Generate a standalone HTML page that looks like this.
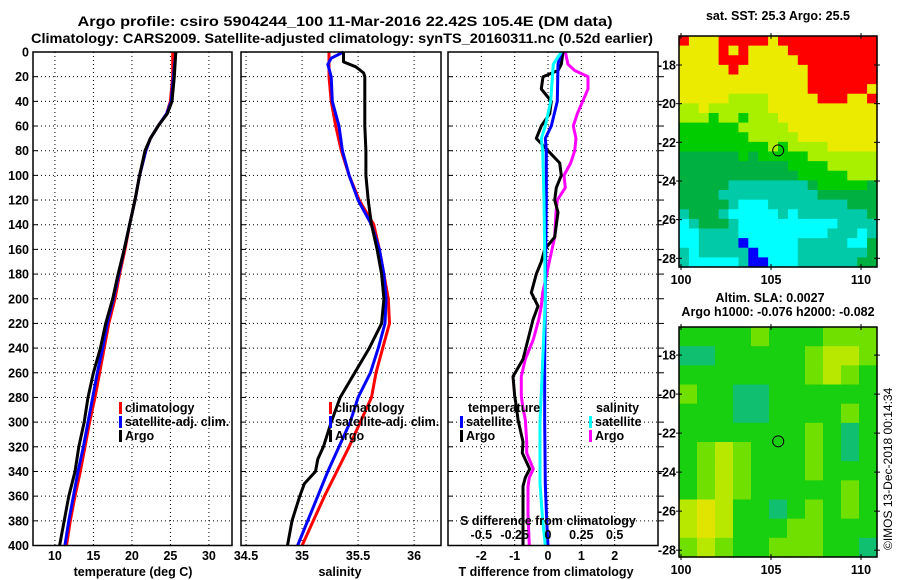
<!DOCTYPE html>
<html><head><meta charset="utf-8">
<style>
html,body{margin:0;padding:0;background:#fff;}
svg{display:block;font-family:"Liberation Sans",sans-serif;font-weight:bold;}
</style></head>
<body>
<svg id="chart" width="900" height="580" viewBox="0 0 900 580" xmlns="http://www.w3.org/2000/svg">
<rect x="0" y="0" width="900" height="580" fill="#fff"/>
<text x="345" y="26" font-size="14" text-anchor="middle" textLength="535" lengthAdjust="spacingAndGlyphs">Argo profile: csiro 5904244_100 11-Mar-2016 22.42S 105.4E (DM data)</text>
<text x="342" y="43" font-size="14" text-anchor="middle" textLength="622" lengthAdjust="spacingAndGlyphs">Climatology: CARS2009. Satellite-adjusted climatology: synTS_20160311.nc (0.52d earlier)</text>
<g id="grids"></g>
<g id="series"></g>
<g id="frames"></g>
<g id="maps"></g>
<g id="labels"></g>
<text x="778" y="20" font-size="12.5" text-anchor="middle">sat. SST: 25.3 Argo: 25.5</text>
<text x="770" y="302" font-size="12.5" text-anchor="middle">Altim. SLA: 0.0027</text>
<text x="778" y="316" font-size="12.5" text-anchor="middle">Argo h1000: -0.076 h2000: -0.082</text>
<text transform="translate(892,550) rotate(-90)" font-size="12" font-weight="normal">©IMOS 13-Dec-2018 00:14:34</text>
</svg>
<script>
// ---------- data ----------
const depthTicks = [0,20,40,60,80,100,120,140,160,180,200,220,240,260,280,300,320,340,360,380,400];
const tTicks = [10,15,20,25,30];
const sTicks = ["34.5","35","35.5","36"];
const dTicks = ["-2","-1","0","1","2"];
const sdTicks = ["-0.5","-0.25","0","0.25","0.5"];

const climDepth = [0,20,40,50,60,70,80,100,120,140,160,180,200,220,240,260,280,300,320,340,360,380,400];
const climTemp  = [25.3,25.3,25.0,24.5,23.4,22.4,21.8,21.0,20.4,19.7,19.1,18.4,17.8,17.0,16.4,15.8,15.2,14.5,13.9,13.3,12.6,12.0,11.5];
const satTemp   = [25.7,25.4,25.1,24.5,23.4,22.4,21.8,21.0,20.4,19.7,19.0,18.3,17.6,16.8,16.2,15.5,14.9,14.3,13.7,13.0,12.4,11.8,11.3];
const argoTemp  = [25.7,25.5,25.2,24.6,23.4,22.4,21.7,21.0,20.4,19.7,19.0,18.2,17.5,16.6,15.9,15.0,14.3,13.8,13.1,12.6,11.8,11.2,10.6];

const salDepth  = [0,5,10,20,40,60,80,100,120,140,160,180,200,220,240,260,280,300,320,340,360,380,400];
const climSal   = [35.24,35.24,35.24,35.24,35.26,35.30,35.35,35.42,35.51,35.64,35.69,35.73,35.77,35.78,35.72,35.66,35.62,35.52,35.42,35.31,35.20,35.10,35.00];
const satSal    = [35.37,35.26,35.23,35.26,35.27,35.33,35.36,35.42,35.50,35.62,35.69,35.73,35.75,35.74,35.68,35.61,35.50,35.43,35.33,35.23,35.14,35.05,34.96];
const argoDepth = [0,8,12,17,20,40,60,80,100,120,140,160,180,200,220,240,260,280,300,320,330,340,350,360,380,400];
const argoSal   = [35.37,35.37,35.48,35.55,35.56,35.56,35.56,35.57,35.57,35.59,35.62,35.67,35.71,35.73,35.71,35.60,35.47,35.34,35.26,35.19,35.14,35.12,35.02,34.98,34.91,34.87];

const dDepth    = [0,10,15,20,30,40,50,60,70,80,90,100,110,120,130,150,160,170,180,195,206,217,233,249,263,279,287,298,316,325,338,345,352,375,400];
const argoTdiff = [0.45,0.4,0.3,-0.15,-0.2,0.1,0.05,-0.2,-0.35,0.0,0.35,0.4,0.25,0.2,0.3,0.2,-0.1,-0.2,-0.35,-0.5,-0.3,-0.45,-0.6,-0.75,-1.05,-1.0,-0.95,-0.9,-0.75,-0.77,-0.55,-0.68,-0.75,-0.75,-0.75];
const argoSdiff = [0.13,0.15,0.2,0.3,0.3,0.26,0.22,0.19,0.21,0.2,0.17,0.12,0.13,0.07,0.06,0.05,0.03,0.01,-0.01,-0.04,-0.05,-0.07,-0.11,-0.17,-0.2,-0.2,-0.19,-0.17,-0.16,-0.16,-0.11,-0.14,-0.15,-0.15,-0.14];
const satDepth  = [0,10,40,60,70,80,120,200,250,300,350,380,400];
const satTdiff  = [0.4,0.3,0.28,0.1,-0.08,-0.05,-0.05,-0.08,-0.1,-0.1,-0.08,-0.04,0.0];
const satSdiff  = [0.1,0.04,0.02,-0.02,-0.05,-0.04,-0.03,-0.02,-0.04,-0.06,-0.06,-0.04,-0.02];

const sstRows = [
"RYYYRRRRRYRRRRRRRRRR","YYYYRYRYYYYRRRRRRRRR","YYYYRRRYYYYYRRRRRRRR","YYYYYRYYYYYYYRRRRRRR",
"YYYYYYYYYYYYYRRRRRRR","YYYYYYYYYYYYYRRRRRRY","YYYYYLLLLYYYYYRRRYYR","LLYLLLLLLYYYYYYYYYYY",
"LLLGLLGLLLYYYYYYYYYY","GGGGGGLLLLLYYYYYYYYY","GGGGGGGLLLLLYYYYYYYY","GGGGGGGGGLGLLLLYYYYY",
"DDDDDDGDGGGGGLLLLLLL","DDDDDDDDDDDGGGGLLLLL","DDDDDDDDDDDDGGGGGLLL","DDDDDTTTTTTTTDGGGGGD",
"DDDDTTTTTTTTTTDDDDDD","DDDDDTCCCTTTTTTTTDDD","TDDDTCCCCCTCTTTTTTTD","CTDDDTCCCCCCCCCCTTTT",
"CCTTTTCCCCCCCCCTTTCT","CCTTTTBCCCCCTTTTTCCD","TCTTTTTBCCCCTTTTTTTD","TCCCCCTBBCCCTTTTTTDD"];
const slaRows = [
"11112111222","00111112332","11111112321","21100111111","11100111121","11111112101",
"12321112101","12321112111","12321111121","34311012121","34311122111","23211222110"];
const mapLonTicks = [100,105,110];
const mapLatTicks = [-18,-20,-22,-24,-26,-28];
const argoLon = 105.4, argoLat = -22.42;

// ---------- helpers ----------
const NS="http://www.w3.org/2000/svg";
function mk(tag,attrs,parent){const e=document.createElementNS(NS,tag);for(const k in attrs)e.setAttribute(k,attrs[k]);parent.appendChild(e);return e;}
const G=document.getElementById('grids'),S=document.getElementById('series'),F=document.getElementById('frames'),M=document.getElementById('maps'),L=document.getElementById('labels');
const yTop=52,yBot=545.5;
const yD=d=>yTop+(yBot-yTop)*d/400;
const panels=[
 {name:'temperature',x0:33,x1:232,v0:7.15,v1:33.0},
 {name:'salinity',x0:241,x1:441,v0:34.455,v1:36.24},
 {name:'difference',x0:448,x1:658,v0:-3.0,v1:3.3}];
const xT=v=>panels[0].x0+(v-panels[0].v0)/(panels[0].v1-panels[0].v0)*(panels[0].x1-panels[0].x0);
const xS=v=>panels[1].x0+(v-panels[1].v0)/(panels[1].v1-panels[1].v0)*(panels[1].x1-panels[1].x0);
const xD=v=>panels[2].x0+(v-panels[2].v0)/(panels[2].v1-panels[2].v0)*(panels[2].x1-panels[2].x0);
const xSD=v=>xD(v*4);

// grids & frames
panels.forEach((p,i)=>{
  depthTicks.forEach(d=>{if(d>0&&d<400){
    const l=mk('line',{x1:p.x0,x2:p.x1,y1:yD(d),y2:yD(d),stroke:'#000','stroke-width':1,'stroke-dasharray':'1,3'},G);
    
    
    const t=mk('line',{x1:p.x0,x2:p.x0+5,y1:yD(d),y2:yD(d),stroke:'#000','stroke-width':1},G);
    
    
  }});
  const r=mk('rect',{x:p.x0,y:yTop,width:p.x1-p.x0,height:yBot-yTop,fill:'none',stroke:'#000','stroke-width':1.5},F);
  
  
});
depthTicks.forEach(d=>{
  const t=mk('text',{x:29,y:yD(d)+4.5,'font-size':12.5,'text-anchor':'end'},L);
  t.textContent=d;
  
  
  if(d>0&&d<400){
    const k=mk('line',{x1:658,x2:664,y1:yD(d),y2:yD(d),stroke:'#000','stroke-width':1},G);
    
    
  }
});
function vgrid(xs,fx,panel){xs.forEach(v=>{const x=fx(+v);if(x>panel.x0+2&&x<panel.x1-2){
  const l=mk('line',{x1:x,x2:x,y1:yTop,y2:yBot,stroke:'#000','stroke-width':1,'stroke-dasharray':'1,3'},G);
  
  }
  const t=mk('text',{x:x,y:560,'font-size':12.5,'text-anchor':'middle'},L);
  t.textContent=v;
  
  
});}
vgrid(tTicks,xT,panels[0]);
vgrid(sTicks,xS,panels[1]);
vgrid(dTicks,xD,panels[2]);
sdTicks.forEach(v=>{
  const t=mk('text',{x:xSD(+v),y:539,'font-size':12.5,'text-anchor':'middle'},L);
  t.textContent=v;
  
  
});
[['temperature (deg C)',133,'temperature-axis-title'],['salinity',340,'salinity-axis-title'],['T difference from climatology',546,'t-diff-axis-title']].forEach(a=>{
  const t=mk('text',{x:a[1],y:576,'font-size':12.5,'text-anchor':'middle'},L);
  t.textContent=a[0];
  
  
});
const sdt=mk('text',{x:548,y:525,'font-size':12.5,'text-anchor':'middle'},L);
sdt.textContent='S difference from climatology';



// series
function line(depths,vals,fx,color,name){
  const pts=depths.map((d,i)=>fx(vals[i]).toFixed(1)+','+yD(d).toFixed(1)).join(' ');
  const p=mk('polyline',{points:pts,fill:'none',stroke:color,'stroke-width':3,'stroke-linejoin':'round'},S);
  
  
}
line(climDepth,climTemp,xT,'#f00','climatology-temp-line');
line(climDepth,satTemp,xT,'#00f','satellite-temp-line');
line(climDepth,argoTemp,xT,'#000','argo-temp-line');
line(salDepth,climSal,xS,'#f00','climatology-salinity-line');
line(salDepth,satSal,xS,'#00f','satellite-salinity-line');
line(argoDepth,argoSal,xS,'#000','argo-salinity-line');
line(dDepth,argoSdiff,xSD,'#f0f','argo-s-diff-line');
line(dDepth,argoTdiff,xD,'#000','argo-t-diff-line');
line(satDepth,satTdiff,xD,'#00f','satellite-t-diff-line');
line(satDepth,satSdiff,xSD,'#0ff','satellite-s-diff-line');

// legends
function leg(x,y,color,label,name){
  if(color){const r=mk('rect',{x:x,y:y-10,width:3,height:12,fill:color},L);
    
    }
  const t=mk('text',{x:x+(color?6:0),y:y,'font-size':12.5},L);
  t.textContent=label;
  
  
}
leg(119,412,'#f00','climatology','legend-climatology');
leg(119,426,'#00f','satellite-adj. clim.','legend-satellite-adj');
leg(119,440,'#000','Argo','legend-argo');
leg(329,412,'#f00','climatology','legend2-climatology');
leg(329,426,'#00f','satellite-adj. clim.','legend2-satellite-adj');
leg(329,440,'#000','Argo','legend2-argo');
leg(468,412,null,'temperature','legend-temperature-heading');
leg(460,426,'#00f','satellite','legend-t-satellite');
leg(460,440,'#000','Argo','legend-t-argo');
leg(596,412,null,'salinity','legend-salinity-heading');
leg(589,426,'#0ff','satellite','legend-s-satellite');
leg(589,440,'#f0f','Argo','legend-s-argo');

// maps
const sstColors={R:'#ff0000',Y:'#ebeb00',L:'#a8f000',G:'#00cc00',D:'#00b040',T:'#00caa8',C:'#00ffff',B:'#0000ff'};
const slaColors=['#10c070','#18d010','#70e000','#b8e800','#e0e400'];
function map(rows,colorFn,x0,y0,w,h,lat0,lat1,name){
  const nr=rows.length,nc=rows[0].length,cw=w/nc,ch=h/nr;
  rows.forEach((row,r)=>{for(let c=0;c<nc;c++){
    const cell=mk('rect',{x:(x0+c*cw).toFixed(2),y:(y0+r*ch).toFixed(2),width:(cw+0.6).toFixed(2),height:(ch+0.6).toFixed(2),fill:colorFn(row[c])},M);
    
    
  }});
  const fr=mk('rect',{x:x0,y:y0,width:w,height:h,fill:'none',stroke:'#000','stroke-width':1.5},M);
  
  
  const lonX=lon=>x0+2+(lon-100)*18;
  const latY=lat=>y0+(lat0-lat)/(lat0-lat1)*h;
  mapLonTicks.forEach(lon=>{
    [y0,y0+h].forEach(yy=>{const k=mk('line',{x1:lonX(lon),x2:lonX(lon),y1:yy-3,y2:yy+3,stroke:'#000'},M);
      
      });
    const t=mk('text',{x:lonX(lon),y:y0+h+17,'font-size':12.5,'text-anchor':'middle'},L);
    t.textContent=lon;
    
    
  });
  mapLatTicks.forEach(lat=>{
    [x0,x0+w].forEach(xx=>{const k=mk('line',{x1:xx-3,x2:xx+3,y1:latY(lat),y2:latY(lat),stroke:'#000'},M);
      
      });
    const t=mk('text',{x:x0-3,y:latY(lat)+4.5,'font-size':12.5,'text-anchor':'end'},L);
    t.textContent=lat;
    
    
  });
  const c=mk('circle',{cx:lonX(argoLon),cy:latY(argoLat),r:5.5,fill:'none',stroke:'#000','stroke-width':1},M);
  
  
}
map(sstRows,ch=>sstColors[ch],679,36,198,231,-16.5,-28.45,'sst-map');
map(slaRows,ch=>slaColors[+ch],679,327,198,230,-16.56,-28.35,'sla-map');
</script>
</body></html>
